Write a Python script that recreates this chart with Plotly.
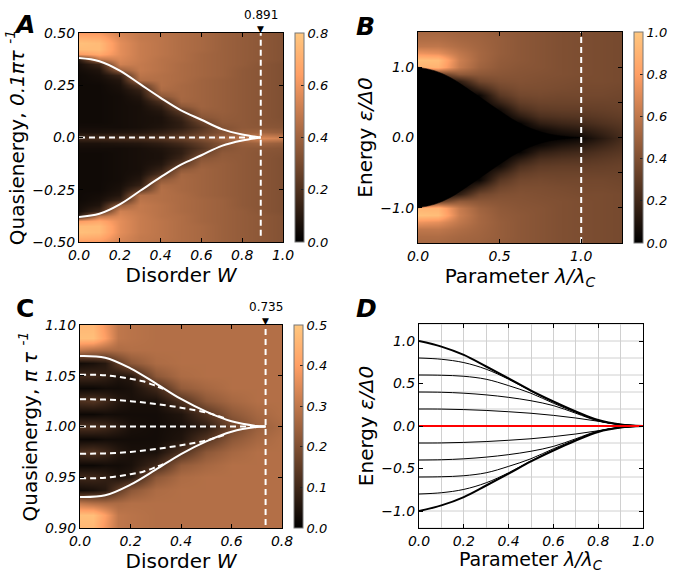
import plotly.graph_objects as go

FONT = "DejaVu Sans"

# ---------------- Panel A data ----------------
A_W = [0.0, 0.1, 0.2, 0.3, 0.4, 0.5, 0.6, 0.7, 0.8, 0.9, 1.0]
A_E_UP = [0.0, 0.025, 0.05, 0.075, 0.1, 0.125, 0.15, 0.175, 0.2, 0.225, 0.25,
          0.275, 0.3, 0.325, 0.35, 0.375, 0.4, 0.425, 0.45, 0.475, 0.5]
A_Z_UP = [
    [0.16, 0.17, 0.18, 0.19, 0.22, 0.27, 0.33, 0.40, 0.47, 0.55, 0.52],
    [0.07, 0.07, 0.08, 0.09, 0.12, 0.17, 0.25, 0.33, 0.38, 0.40, 0.38],
    [0.05, 0.05, 0.05, 0.06, 0.08, 0.12, 0.21, 0.33, 0.36, 0.35, 0.34],
    [0.04, 0.04, 0.05, 0.06, 0.07, 0.12, 0.26, 0.36, 0.36, 0.34, 0.33],
    [0.04, 0.04, 0.05, 0.06, 0.07, 0.15, 0.34, 0.37, 0.36, 0.34, 0.32],
    [0.04, 0.04, 0.05, 0.06, 0.09, 0.23, 0.38, 0.38, 0.36, 0.34, 0.32],
    [0.04, 0.04, 0.05, 0.06, 0.13, 0.35, 0.40, 0.38, 0.36, 0.34, 0.32],
    [0.04, 0.04, 0.05, 0.07, 0.20, 0.41, 0.40, 0.38, 0.36, 0.34, 0.32],
    [0.04, 0.04, 0.05, 0.09, 0.35, 0.42, 0.40, 0.38, 0.36, 0.34, 0.32],
    [0.04, 0.04, 0.06, 0.13, 0.43, 0.42, 0.40, 0.38, 0.36, 0.34, 0.32],
    [0.04, 0.04, 0.07, 0.24, 0.45, 0.42, 0.40, 0.38, 0.36, 0.34, 0.32],
    [0.04, 0.05, 0.09, 0.44, 0.45, 0.43, 0.40, 0.38, 0.36, 0.34, 0.32],
    [0.04, 0.06, 0.15, 0.47, 0.45, 0.43, 0.41, 0.39, 0.36, 0.34, 0.32],
    [0.05, 0.08, 0.38, 0.49, 0.46, 0.43, 0.41, 0.39, 0.36, 0.34, 0.32],
    [0.06, 0.15, 0.52, 0.49, 0.46, 0.43, 0.41, 0.39, 0.37, 0.34, 0.32],
    [0.12, 0.48, 0.55, 0.50, 0.46, 0.44, 0.41, 0.39, 0.37, 0.35, 0.33],
    [0.63, 0.68, 0.57, 0.50, 0.47, 0.44, 0.41, 0.39, 0.37, 0.35, 0.33],
    [0.75, 0.75, 0.57, 0.50, 0.47, 0.44, 0.42, 0.39, 0.37, 0.35, 0.33],
    [0.77, 0.75, 0.57, 0.50, 0.47, 0.44, 0.42, 0.39, 0.37, 0.35, 0.33],
    [0.71, 0.69, 0.55, 0.49, 0.47, 0.44, 0.42, 0.39, 0.37, 0.35, 0.33],
    [0.63, 0.62, 0.53, 0.49, 0.46, 0.44, 0.42, 0.39, 0.37, 0.35, 0.33],
]
A_EDGE_W = [0.0, 0.1, 0.2, 0.3, 0.4, 0.5, 0.6, 0.7, 0.8, 0.891]
A_EDGE_UP = [0.38, 0.365, 0.32, 0.255, 0.19, 0.13, 0.085, 0.04, 0.014, 0.0]
A_EDGE_LO = [-0.38, -0.365, -0.32, -0.255, -0.19, -0.13, -0.085, -0.04, -0.014, 0.0]
A_WC = 0.891

# ---------------- Panel B data ----------------
B_L = [0.0, 0.125, 0.25, 0.375, 0.5, 0.625, 0.75, 0.875, 1.0, 1.125, 1.25]
B_E_UP = [0.0, 0.1, 0.2, 0.3, 0.4, 0.5, 0.6, 0.7, 0.8, 0.9, 1.0, 1.1, 1.2, 1.3, 1.4, 1.5]
B_Z_UP = [
    [0.00, 0.00, 0.00, 0.00, 0.00, 0.00, 0.00, 0.01, 0.04, 0.13, 0.22],
    [0.00, 0.00, 0.00, 0.00, 0.00, 0.00, 0.04, 0.10, 0.13, 0.19, 0.25],
    [0.00, 0.00, 0.00, 0.00, 0.00, 0.02, 0.15, 0.19, 0.21, 0.25, 0.28],
    [0.00, 0.00, 0.00, 0.00, 0.00, 0.14, 0.24, 0.26, 0.27, 0.29, 0.31],
    [0.00, 0.00, 0.00, 0.00, 0.06, 0.24, 0.30, 0.31, 0.31, 0.32, 0.33],
    [0.00, 0.00, 0.00, 0.00, 0.18, 0.31, 0.34, 0.34, 0.34, 0.34, 0.34],
    [0.00, 0.00, 0.00, 0.03, 0.28, 0.36, 0.37, 0.36, 0.36, 0.36, 0.35],
    [0.00, 0.00, 0.00, 0.20, 0.35, 0.39, 0.39, 0.38, 0.37, 0.37, 0.36],
    [0.00, 0.00, 0.15, 0.35, 0.40, 0.41, 0.40, 0.39, 0.38, 0.38, 0.37],
    [0.00, 0.30, 0.45, 0.44, 0.43, 0.42, 0.41, 0.40, 0.39, 0.38, 0.37],
    [0.90, 0.90, 0.62, 0.50, 0.45, 0.43, 0.42, 0.40, 0.39, 0.38, 0.37],
    [0.97, 0.95, 0.64, 0.52, 0.46, 0.44, 0.42, 0.40, 0.39, 0.38, 0.37],
    [0.75, 0.72, 0.60, 0.52, 0.47, 0.44, 0.42, 0.40, 0.39, 0.38, 0.37],
    [0.60, 0.60, 0.55, 0.51, 0.47, 0.44, 0.42, 0.40, 0.39, 0.38, 0.37],
    [0.55, 0.55, 0.52, 0.50, 0.47, 0.44, 0.42, 0.40, 0.39, 0.38, 0.37],
    [0.52, 0.52, 0.50, 0.49, 0.46, 0.44, 0.42, 0.40, 0.39, 0.38, 0.37],
]
B_EDGE_L = [0.0, 0.1, 0.2, 0.3, 0.4, 0.5, 0.6, 0.7, 0.8, 0.9, 1.0]
B_EDGE_UP = [1.0, 0.95, 0.85, 0.70, 0.54, 0.38, 0.23, 0.12, 0.05, 0.015, 0.0]
B_EDGE_LO = [-1.0, -0.95, -0.85, -0.70, -0.54, -0.38, -0.23, -0.12, -0.05, -0.015, 0.0]
B_LC = 1.0

# ---------------- Panel C data ----------------
C_W = [0.0, 0.05, 0.1, 0.15, 0.2, 0.3, 0.4, 0.5, 0.6, 0.7, 0.8]
C_E_UP = [1.0, 1.0125, 1.025, 1.0375, 1.05, 1.0625, 1.075, 1.0875, 1.1]
C_Z_UP = [
    [0.12, 0.12, 0.10, 0.07, 0.04, 0.03, 0.04, 0.07, 0.17, 0.24, 0.27],
    [0.02, 0.02, 0.03, 0.03, 0.03, 0.03, 0.05, 0.13, 0.22, 0.26, 0.28],
    [0.12, 0.13, 0.10, 0.06, 0.04, 0.04, 0.12, 0.22, 0.26, 0.28, 0.28],
    [0.02, 0.02, 0.03, 0.03, 0.04, 0.10, 0.23, 0.26, 0.28, 0.28, 0.28],
    [0.10, 0.10, 0.08, 0.05, 0.06, 0.22, 0.27, 0.28, 0.28, 0.28, 0.28],
    [0.03, 0.04, 0.06, 0.15, 0.22, 0.27, 0.28, 0.28, 0.28, 0.28, 0.28],
    [0.30, 0.28, 0.27, 0.27, 0.28, 0.28, 0.28, 0.28, 0.28, 0.28, 0.28],
    [0.48, 0.48, 0.40, 0.30, 0.29, 0.28, 0.28, 0.28, 0.28, 0.28, 0.28],
    [0.46, 0.46, 0.38, 0.30, 0.29, 0.28, 0.28, 0.28, 0.28, 0.28, 0.28],
]
C_EDGE_W = [0.0, 0.1, 0.2, 0.3, 0.4, 0.5, 0.6, 0.7, 0.735]
C_EDGE_UP = [1.0695, 1.0678, 1.0573, 1.0425, 1.0271, 1.0146, 1.0051, 1.0005, 1.0]
C_EDGE_LO = [0.9305, 0.9322, 0.9427, 0.9575, 0.9729, 0.9854, 0.9949, 0.9995, 1.0]
C_D1_W = [0.0, 0.1, 0.2, 0.25, 0.3, 0.33]
C_D1_UP = [1.051, 1.0505, 1.047, 1.0445, 1.040, 1.037]
C_D1_LO = [0.949, 0.9495, 0.953, 0.9555, 0.960, 0.963]
C_D2_W = [0.0, 0.1, 0.2, 0.3, 0.4, 0.5, 0.58]
C_D2_UP = [1.0268, 1.0265, 1.025, 1.0222, 1.0185, 1.0138, 1.0075]
C_D2_LO = [0.9732, 0.9735, 0.975, 0.9778, 0.9815, 0.9862, 0.9925]
C_WC = 0.735

# ---------------- Panel D data ----------------
D_L = [0.0, 0.1, 0.2, 0.3, 0.4, 0.5, 0.6, 0.7, 0.8, 0.9, 1.0]
D_OUTER = [1.0, 0.934, 0.836, 0.70, 0.56, 0.417, 0.29, 0.172, 0.07, 0.018, 0.0]
D_LEVEL_08 = [0.8, 0.785, 0.746, 0.668, 0.55, 0.41, 0.28, 0.167, 0.067, 0.017, 0.0]
D_LEVEL_06 = [0.6, 0.597, 0.585, 0.55, 0.475, 0.385, 0.268, 0.16, 0.063, 0.016, 0.0]
D_LEVEL_04 = [0.4, 0.397, 0.386, 0.366, 0.337, 0.297, 0.24, 0.15, 0.058, 0.015, 0.0]
D_LEVEL_02 = [0.2, 0.199, 0.193, 0.183, 0.168, 0.15, 0.125, 0.094, 0.056, 0.02, 0.0]
D_OUTER_N = [-1.0, -0.934, -0.836, -0.70, -0.56, -0.417, -0.29, -0.172, -0.07, -0.018, 0.0]
D_LEVEL_08_N = [-0.8, -0.785, -0.746, -0.668, -0.55, -0.41, -0.28, -0.167, -0.067, -0.017, 0.0]
D_LEVEL_06_N = [-0.6, -0.597, -0.585, -0.55, -0.475, -0.385, -0.268, -0.16, -0.063, -0.016, 0.0]
D_LEVEL_04_N = [-0.4, -0.397, -0.386, -0.366, -0.337, -0.297, -0.24, -0.15, -0.058, -0.015, 0.0]
D_LEVEL_02_N = [-0.2, -0.199, -0.193, -0.183, -0.168, -0.15, -0.125, -0.094, -0.056, -0.02, 0.0]
D_ZERO_L = [0.0, 1.0]
D_ZERO_E = [0.0, 0.0]
D_GRID_E = [-1.2, -1.0, -0.8, -0.6, -0.4, -0.2, 0.0, 0.2, 0.4, 0.6, 0.8, 1.0, 1.2]

# full symmetric grids (mirror of the read upper halves)
A_E = [-e for e in reversed(A_E_UP[1:])] + A_E_UP
A_Z = [row for row in reversed(A_Z_UP[1:])] + A_Z_UP
B_E = [-e for e in reversed(B_E_UP[1:])] + B_E_UP
B_Z = [row for row in reversed(B_Z_UP[1:])] + B_Z_UP
C_E = [round(2.0 - e, 4) for e in reversed(C_E_UP[1:])] + C_E_UP
C_Z = [row for row in reversed(C_Z_UP[1:])] + C_Z_UP

COPPER = [[0.0, "rgb(0,0,0)"], [0.8, "rgb(255,159,101)"], [1.0, "rgb(255,199,127)"]]
W = 678.0
H = 573.0


def dom_x(a, b):
    return [a / W, b / W]


def dom_y(top, bottom):
    return [1 - bottom / H, 1 - top / H]


def axis(domain, rng, tickvals, ticktext, anchor, title, standoff):
    return dict(
        domain=domain, range=rng, tickmode="array", tickvals=tickvals, ticktext=ticktext,
        anchor=anchor, ticks="inside", ticklen=4, tickcolor="black", mirror="allticks",
        showline=True, linecolor="black", linewidth=1, showgrid=False, zeroline=False,
        automargin=False,
        tickfont=dict(family=FONT, size=14, color="black", style="italic"),
        title=dict(text=title, font=dict(family=FONT, size=20, color="black"), standoff=standoff),
    )


def cbar(x, top, bottom, tickvals, ticktext):
    return dict(
        x=x / W, xanchor="left", y=1 - (top + bottom) / 2 / H, yanchor="middle",
        len=(bottom - top) / H, lenmode="fraction", thickness=9, thicknessmode="pixels",
        xpad=0, ypad=0, outlinewidth=1, outlinecolor="#777777",
        tickmode="array", tickvals=tickvals, ticktext=ticktext, ticks="inside", ticklen=3,
        tickcolor="#222222", tickfont=dict(family=FONT, size=13, color="black", style="italic"),
    )


fig = go.Figure()

# ---- A ----
fig.add_trace(go.Heatmap(
    x=A_W, y=A_E, z=A_Z, colorscale=COPPER, zmin=0, zmax=0.8, zsmooth="best",
    xaxis="x", yaxis="y",
    colorbar=cbar(295, 33, 242, [0, 0.2, 0.4, 0.6, 0.8], ["0.0", "0.2", "0.4", "0.6", "0.8"]),
))
white = dict(color="white", width=2, shape="spline")
fig.add_trace(go.Scatter(x=A_EDGE_W, y=A_EDGE_UP, mode="lines", line=white, xaxis="x", yaxis="y", showlegend=False))
fig.add_trace(go.Scatter(x=A_EDGE_W, y=A_EDGE_LO, mode="lines", line=white, xaxis="x", yaxis="y", showlegend=False))
dash = dict(color="white", width=2, dash="6px,4px")
fig.add_trace(go.Scatter(x=[0, A_WC], y=[0, 0], mode="lines", line=dash, xaxis="x", yaxis="y", showlegend=False))
fig.add_trace(go.Scatter(x=[A_WC, A_WC], y=[-0.47, 0.5], mode="lines", line=dash, xaxis="x", yaxis="y", showlegend=False))

# ---- B ----
fig.add_trace(go.Heatmap(
    x=B_L, y=B_E, z=B_Z, colorscale=COPPER, zmin=0, zmax=1.0, zsmooth="best",
    xaxis="x2", yaxis="y2",
    colorbar=cbar(634, 32, 243, [0, 0.2, 0.4, 0.6, 0.8, 1.0], ["0.0", "0.2", "0.4", "0.6", "0.8", "1.0"]),
))
fig.add_trace(go.Scatter(
    x=B_EDGE_L + B_EDGE_L[::-1], y=B_EDGE_UP + B_EDGE_LO[::-1], mode="lines",
    fill="toself", fillcolor="black", line=dict(color="black", width=0.5, shape="spline"),
    xaxis="x2", yaxis="y2", showlegend=False))
fig.add_trace(go.Scatter(x=[B_LC, B_LC], y=[-1.5, 1.5], mode="lines", line=dash, xaxis="x2", yaxis="y2", showlegend=False))

# ---- C ----
fig.add_trace(go.Heatmap(
    x=C_W, y=C_E, z=C_Z, colorscale=COPPER, zmin=0, zmax=0.5, zsmooth="best",
    xaxis="x3", yaxis="y3",
    colorbar=cbar(294, 325, 528, [0, 0.1, 0.2, 0.3, 0.4, 0.5], ["0.0", "0.1", "0.2", "0.3", "0.4", "0.5"]),
))
fig.add_trace(go.Scatter(x=C_EDGE_W, y=C_EDGE_UP, mode="lines", line=white, xaxis="x3", yaxis="y3", showlegend=False))
fig.add_trace(go.Scatter(x=C_EDGE_W, y=C_EDGE_LO, mode="lines", line=white, xaxis="x3", yaxis="y3", showlegend=False))
dash_s = dict(color="white", width=2, dash="6px,4px", shape="spline")
for xs, ys in [(C_D1_W, C_D1_UP), (C_D1_W, C_D1_LO), (C_D2_W, C_D2_UP), (C_D2_W, C_D2_LO)]:
    fig.add_trace(go.Scatter(x=xs, y=ys, mode="lines", line=dash_s, xaxis="x3", yaxis="y3", showlegend=False))
fig.add_trace(go.Scatter(x=[0, C_WC], y=[1.0, 1.0], mode="lines", line=dash, xaxis="x3", yaxis="y3", showlegend=False))
fig.add_trace(go.Scatter(x=[C_WC, C_WC], y=[0.903, 1.1], mode="lines", line=dash, xaxis="x3", yaxis="y3", showlegend=False))

# ---- D ----
thick = dict(color="black", width=2, shape="spline")
thin = dict(color="black", width=1, shape="spline")
for ys in [D_LEVEL_08, D_LEVEL_06, D_LEVEL_04, D_LEVEL_02,
           D_LEVEL_08_N, D_LEVEL_06_N, D_LEVEL_04_N, D_LEVEL_02_N]:
    fig.add_trace(go.Scatter(x=D_L, y=ys, mode="lines", line=thin, xaxis="x4", yaxis="y4", showlegend=False))
for ys in [D_OUTER, D_OUTER_N]:
    fig.add_trace(go.Scatter(x=D_L, y=ys, mode="lines", line=thick, xaxis="x4", yaxis="y4", showlegend=False))
fig.add_trace(go.Scatter(x=D_ZERO_L, y=D_ZERO_E, mode="lines", line=dict(color="red", width=2),
                         xaxis="x4", yaxis="y4", showlegend=False, cliponaxis=False))

shapes = []
for g in D_GRID_E:
    shapes.append(dict(type="line", xref="x4 domain", yref="y4", x0=0, x1=1, y0=g, y1=g,
                       line=dict(color="#d0d0d0", width=1), layer="below"))

fig.update_layout(
    width=678, height=573, margin=dict(l=0, r=0, t=0, b=0),
    paper_bgcolor="white", plot_bgcolor="white", showlegend=False,
    font=dict(family=FONT, color="black"),
    xaxis=axis(dom_x(79, 283), [0, 1.0], [0, 0.2, 0.4, 0.6, 0.8, 1.0],
               ["0.0", "0.2", "0.4", "0.6", "0.8", "1.0"], "y", "Disorder <i>W</i>", 6),
    yaxis=axis(dom_y(33, 242), [-0.5, 0.5], [-0.5, -0.25, 0, 0.25, 0.5],
               ["−0.50", "−0.25", "0.0", "0.25", "0.50"], "x",
               "Quasienergy, <i>0.1πτ <sup>-1</sup></i>", 2),
    xaxis2=axis(dom_x(418, 622), [0, 1.25], [0, 0.5, 1.0], ["0.0", "0.5", "1.0"], "y2",
                "Parameter <i>λ/λ<sub>C</sub></i>", 6),
    yaxis2=axis(dom_y(32, 243), [-1.5, 1.5], [-1.0, 0, 1.0],
                ["−1.0", "0.0", "1.0"], "x2", "Energy <i>ε/Δ0</i>", 2),
    xaxis3=axis(dom_x(80, 282), [0, 0.8], [0, 0.2, 0.4, 0.6, 0.8],
                ["0.0", "0.2", "0.4", "0.6", "0.8"], "y3", "Disorder <i>W</i>", 4),
    yaxis3=axis(dom_y(325, 528), [0.9, 1.1], [0.9, 0.95, 1.0, 1.05, 1.1],
                ["0.90", "0.95", "1.00", "1.05", "1.10"], "x3",
                "Quasienergy, <i>π τ <sup>-1</sup></i>", 2),
    xaxis4=axis(dom_x(419, 643), [0, 1.0], [0, 0.2, 0.4, 0.6, 0.8, 1.0],
                ["0.0", "0.2", "0.4", "0.6", "0.8", "1.0"], "y4", None, 2),
    yaxis4=axis(dom_y(324, 528), [-1.2, 1.2], [-1.0, -0.5, 0, 0.5, 1.0],
                ["−1.0", "−0.5", "0.0", "0.5", "1.0"], "x4", "Energy <i>ε/Δ0</i>", 2),
    shapes=shapes,
)
fig.update_layout(
    xaxis4=dict(showgrid=True, gridcolor="#d0d0d0",
                minor=dict(dtick=0.1, tick0=0, showgrid=True, gridcolor="#d0d0d0")),
    yaxis2=dict(minor=dict(dtick=0.5, tick0=0, ticks="inside", ticklen=4, tickcolor="black")),
)

ann = []


def label(txt, x, y, italic=True):
    ann.append(dict(text="<b>%s</b>" % txt, x=x / W, y=1 - y / H, xref="paper", yref="paper",
                    xanchor="left", yanchor="top", showarrow=False,
                    font=dict(family=FONT, size=25, color="black", style="italic" if italic else "normal")))


label("A", 12, 8)
label("B", 354, 10)
label("C", 14, 292, italic=False)
label("D", 354, 292)
for xr, yr, xv, txt in [("x", "y domain", A_WC, "0.891"), ("x3", "y3 domain", C_WC, "0.735")]:
    ann.append(dict(text=txt, x=xv, y=1, xref=xr, yref=yr, xanchor="center", yanchor="bottom",
                    yshift=9, showarrow=False, font=dict(family=FONT, size=12, color="black")))
    ann.append(dict(text="▼", x=xv, y=1, xref=xr, yref=yr, xanchor="center", yanchor="bottom",
                    yshift=-3, showarrow=False, font=dict(family=FONT, size=9, color="black")))
# x-axis title of panel D, placed just under its tick labels
ann.append(dict(text="Parameter <i>λ/λ<sub>C</sub></i>", x=531 / W, y=1 - 546 / H,
                xref="paper", yref="paper", xanchor="center", yanchor="top", showarrow=False,
                font=dict(family=FONT, size=19, color="black")))
fig.update_layout(annotations=ann)

fig.write_html("out.html", config={"displayModeBar": False},
               post_script="document.body.style.margin='0px';document.body.style.padding='0px';")
